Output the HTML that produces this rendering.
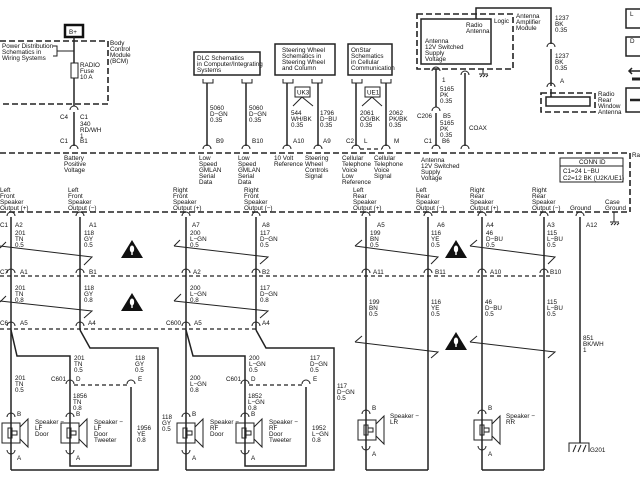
<!DOCTYPE html>
<html><head><meta charset="utf-8"><style>
html,body{margin:0;padding:0;background:#fff;}
svg{display:block;}
text{font-family:"Liberation Sans",sans-serif;font-size:6.3px;fill:#111;}
.w{stroke:#222;stroke-width:1.5;fill:none;}
.t{stroke:#222;stroke-width:1;fill:none;}
.d{stroke:#222;stroke-width:1.2;fill:none;stroke-dasharray:4,3;}
.dd{stroke:#222;stroke-width:1.6;fill:none;stroke-dasharray:6,3;}
</style></head><body>
<svg width="640" height="480" viewBox="0 0 640 480" xmlns="http://www.w3.org/2000/svg">
<defs>
<g id="c"><path d="M-4,3 A4,4 0 0 1 4,3" class="t" stroke-width="1.3"/></g>
<g id="tri"><polygon points="10,0 21,18 -1,18" fill="#111"/><ellipse cx="10" cy="9" rx="2.2" ry="3.5" fill="#fff"/><rect x="9.3" y="12" width="1.4" height="3" fill="#fff"/></g>
<g id="spk"><rect x="0" y="0" width="18" height="20" class="t"/><rect x="6" y="5" width="4" height="10" class="t"/><rect x="10" y="8" width="5" height="4" class="t"/><path d="M18,4 L26,-4 L26,24 L18,16" class="t"/></g>
</defs>

<rect x="65" y="25" width="18" height="12" fill="none" stroke="#111" stroke-width="2.5"/>
<text x="69" y="34">B+</text>
<path d="M0,41 H108 V104 H0" class="dd"/>
<text x="110" y="45">Body</text><text x="110" y="51">Control</text><text x="110" y="57">Module</text><text x="110" y="63">(BCM)</text>
<text x="2" y="48">Power Distribution</text><text x="2" y="54">Schematics in</text><text x="2" y="60">Wiring Systems</text>
<path d="M53,46 H57 V56 H53 M57,51 H74" class="t"/>
<line x1="74" y1="37" x2="74" y2="106" class="w"/>
<rect x="71" y="63" width="7" height="15" fill="#fff" stroke="#222"/>
<text x="80" y="67">RADIO</text><text x="80" y="73">Fuse</text><text x="80" y="79">10 A</text>
<use href="#c" x="74" y="107"/>
<text x="60" y="119">C4</text><text x="80" y="119">C1</text>
<text x="80" y="126">340</text><text x="80" y="132">RD/WH</text><text x="80" y="138">1</text>
<line x1="74" y1="112" x2="74" y2="146" class="w"/>
<text x="60" y="143">C1</text><text x="80" y="143">B1</text>
<use href="#c" x="74" y="146"/>

<rect x="194" y="52" width="66" height="23" class="w"/>
<text x="197" y="60">DLC Schematics</text><text x="197" y="66">in Computer/Integrating</text><text x="197" y="72">Systems</text>
<path d="M203,79 V83 H213 V79 M242,79 V83 H252 V79" class="t"/>
<line x1="207" y1="83" x2="207" y2="146" class="w"/><line x1="246" y1="83" x2="246" y2="146" class="w"/>
<text x="210" y="110">5060</text><text x="210" y="116">D−GN</text><text x="210" y="122">0.35</text>
<text x="249" y="110">5060</text><text x="249" y="116">D−GN</text><text x="249" y="122">0.35</text>
<text x="216" y="143">B9</text><text x="252" y="143">B10</text>
<use href="#c" x="207" y="146"/><use href="#c" x="246" y="146"/>

<rect x="275" y="44" width="60" height="31" class="w"/>
<text x="282" y="52">Steering Wheel</text><text x="282" y="58">Schematics in</text><text x="282" y="64">Steering Wheel</text><text x="282" y="70">and Column</text>
<path d="M283,79 V83 H293 V79 M312,79 V83 H322 V79" class="t"/>
<line x1="287" y1="83" x2="287" y2="146" class="w"/><line x1="318" y1="83" x2="318" y2="146" class="w"/>
<rect x="295" y="87" width="15" height="10" class="t"/><text x="297" y="94.5">UK3</text>
<path d="M302,97 L293,106 M302,97 L313,106" class="t"/>
<text x="291" y="115">544</text><text x="291" y="121">WH/BK</text><text x="291" y="127">0.35</text>
<text x="320" y="115">1796</text><text x="320" y="121">D−BU</text><text x="320" y="127">0.35</text>
<text x="293" y="143">A10</text><text x="323" y="143">A9</text>
<use href="#c" x="287" y="146"/><use href="#c" x="318" y="146"/>

<rect x="348" y="44" width="44" height="31" class="w"/>
<text x="351" y="52">OnStar</text><text x="351" y="58">Schematics</text><text x="351" y="64">in Cellular</text><text x="351" y="70">Communication</text>
<path d="M352,79 V83 H362 V79 M381,79 V83 H391 V79" class="t"/>
<line x1="356" y1="83" x2="356" y2="146" class="w"/><line x1="386" y1="83" x2="386" y2="146" class="w"/>
<rect x="365" y="87" width="15" height="10" class="t"/><text x="367" y="94.5">UE1</text>
<path d="M372,97 L362,106 M372,97 L382,106" class="t"/>
<text x="360" y="115">2061</text><text x="360" y="121">OG/BK</text><text x="360" y="127">0.35</text>
<text x="389" y="115">2062</text><text x="389" y="121">PK/BK</text><text x="389" y="127">0.35</text>
<text x="346" y="143">C2</text><text x="364" y="143">L</text><text x="394" y="143">M</text>
<use href="#c" x="356" y="146"/><use href="#c" x="386" y="146"/>
<line x1="360" y1="149" x2="382" y2="149" class="d"/>

<path d="M417,14 H513 V69 H417 Z" class="dd"/>
<rect x="421" y="19" width="70" height="45" fill="#fff" class="w"/>
<text x="425" y="43">Antenna</text><text x="425" y="49">12V Switched</text><text x="425" y="55">Supply</text><text x="425" y="61">Voltage</text>
<text x="466" y="27">Radio</text><text x="466" y="33">Antenna</text>
<text x="494" y="23">Logic</text>
<text x="516" y="18">Antenna</text><text x="516" y="24">Amplifier</text><text x="516" y="30">Module</text>
<path d="M476,19 V8 H551 V44" class="w"/>
<text x="555" y="20">1237</text><text x="555" y="26">BK</text><text x="555" y="32">0.35</text>
<use href="#c" x="551" y="44"/>
<line x1="551" y1="49" x2="551" y2="86" class="w"/>
<text x="555" y="58">1237</text><text x="555" y="64">BK</text><text x="555" y="70">0.35</text>
<text x="560" y="83">A</text>
<use href="#c" x="551" y="84"/><line x1="551" y1="89" x2="551" y2="97" class="w"/>
<path d="M541,93 H595 V112 H541 Z" class="dd"/>
<rect x="546" y="97" width="44" height="9" fill="#fff" class="w"/>
<text x="598" y="96">Radio</text><text x="598" y="102">Rear</text><text x="598" y="108">Window</text><text x="598" y="114">Antenna</text>
<path d="M483,69 V74 M479,74 H488 M480,77 L482,75 M483,77 L485,75 M486,77 L488,75" class="t"/>
<line x1="436" y1="69" x2="436" y2="107" class="w"/>
<use href="#c" x="436" y="68"/>
<text x="442" y="82">1</text>
<text x="440" y="91">5165</text><text x="440" y="97">PK</text><text x="440" y="103">0.35</text>
<use href="#c" x="436" y="108"/>
<text x="417" y="118">C206</text><text x="443" y="118">B5</text>
<line x1="436" y1="113" x2="436" y2="146" class="w"/>
<text x="440" y="125">5165</text><text x="440" y="131">PK</text><text x="440" y="137">0.35</text>
<text x="424" y="143">C1</text><text x="442" y="143">B6</text>
<use href="#c" x="436" y="146"/>
<line x1="465" y1="73" x2="465" y2="146" class="w"/>
<use href="#c" x="465" y="72"/><use href="#c" x="465" y="146"/>
<text x="469" y="130">COAX</text>

<rect x="626" y="9" width="20" height="19" class="w"/><text x="630" y="16">L</text>
<rect x="626" y="37" width="20" height="19" class="w"/><text x="630" y="43">D</text>
<path d="M630,71 H640 M632,68 L629,71 L632,74" class="w"/>
<path d="M632,79 H640" stroke="#222" stroke-width="3"/>
<rect x="626" y="88" width="20" height="24" class="w"/><line x1="630" y1="100" x2="640" y2="100" stroke="#222" stroke-width="2.5"/>

<line x1="0" y1="153" x2="630" y2="153" class="dd"/>
<line x1="630" y1="153" x2="630" y2="212" class="dd"/>
<line x1="0" y1="212" x2="630" y2="212" class="dd"/>
<text x="632" y="157">Ra</text>
<text x="64" y="160">Battery</text><text x="64" y="166">Positive</text><text x="64" y="172">Voltage</text>
<text x="199" y="160">Low</text><text x="199" y="166">Speed</text><text x="199" y="172">GMLAN</text><text x="199" y="178">Serial</text><text x="199" y="184">Data</text>
<text x="238" y="160">Low</text><text x="238" y="166">Speed</text><text x="238" y="172">GMLAN</text><text x="238" y="178">Serial</text><text x="238" y="184">Data</text>
<text x="274" y="160">10 Volt</text><text x="274" y="166">Reference</text>
<text x="305" y="160">Steering</text><text x="305" y="166">Wheel</text><text x="305" y="172">Controls</text><text x="305" y="178">Signal</text>
<text x="342" y="160">Cellular</text><text x="342" y="166">Telephone</text><text x="342" y="172">Voice</text><text x="342" y="178">Low</text><text x="342" y="184">Reference</text>
<text x="374" y="160">Cellular</text><text x="374" y="166">Telephone</text><text x="374" y="172">Voice</text><text x="374" y="178">Signal</text>
<text x="421" y="162">Antenna</text><text x="421" y="168">12V Switched</text><text x="421" y="174">Supply</text><text x="421" y="180">Voltage</text>
<rect x="560" y="158" width="63" height="24" class="t"/><line x1="560" y1="166" x2="623" y2="166" class="t"/>
<text x="579" y="164">CONN ID</text><text x="563" y="173">C1=24 L−BU</text><text x="563" y="180">C2=12 BK (U2K/UE1)</text>

<text x="0" y="192">Left</text><text x="0" y="198">Front</text><text x="0" y="204">Speaker</text><text x="0" y="210">Output (+)</text>
<text x="68" y="192">Left</text><text x="68" y="198">Front</text><text x="68" y="204">Speaker</text><text x="68" y="210">Output (−)</text>
<text x="173" y="192">Right</text><text x="173" y="198">Front</text><text x="173" y="204">Speaker</text><text x="173" y="210">Output (+)</text>
<text x="244" y="192">Right</text><text x="244" y="198">Front</text><text x="244" y="204">Speaker</text><text x="244" y="210">Output (−)</text>
<text x="353" y="192">Left</text><text x="353" y="198">Rear</text><text x="353" y="204">Speaker</text><text x="353" y="210">Output (+)</text>
<text x="416" y="192">Left</text><text x="416" y="198">Rear</text><text x="416" y="204">Speaker</text><text x="416" y="210">Output (−)</text>
<text x="470" y="192">Right</text><text x="470" y="198">Rear</text><text x="470" y="204">Speaker</text><text x="470" y="210">Output (+)</text>
<text x="532" y="192">Right</text><text x="532" y="198">Rear</text><text x="532" y="204">Speaker</text><text x="532" y="210">Output (−)</text>
<text x="570" y="210">Ground</text>
<text x="605" y="204">Case</text><text x="605" y="210">Ground</text>
<path d="M614,212 V222 M610,222 H619 M611,225 L613,223 M614,225 L616,223 M617,225 L619,223" class="t"/>

<g>
<use href="#c" x="11" y="213"/><use href="#c" x="80" y="213"/><use href="#c" x="186" y="213"/><use href="#c" x="256" y="213"/>
<use href="#c" x="366" y="213"/><use href="#c" x="428" y="213"/><use href="#c" x="482" y="213"/><use href="#c" x="544" y="213"/><use href="#c" x="580" y="213"/>
</g>
<text x="0" y="227">C1</text><text x="15" y="227">A2</text><text x="89" y="227">A1</text><text x="192" y="227">A7</text><text x="262" y="227">A8</text>
<text x="377" y="227">A5</text><text x="437" y="227">A6</text><text x="486" y="227">A4</text><text x="547" y="227">A3</text><text x="586" y="227">A12</text>
<g class="w">
<line x1="11" y1="217" x2="11" y2="470"/><line x1="80" y1="217" x2="80" y2="330"/>
<line x1="186" y1="217" x2="186" y2="470"/><line x1="256" y1="217" x2="256" y2="330"/>
<line x1="366" y1="217" x2="366" y2="470"/><line x1="428" y1="217" x2="428" y2="470"/>
<line x1="482" y1="217" x2="482" y2="470"/><line x1="544" y1="217" x2="544" y2="470"/>
<line x1="580" y1="217" x2="580" y2="443"/>
</g>
<text x="15" y="235">201</text><text x="15" y="241">TN</text><text x="15" y="247">0.5</text>
<text x="84" y="235">118</text><text x="84" y="241">GY</text><text x="84" y="247">0.5</text>
<text x="190" y="235">200</text><text x="190" y="241">L−GN</text><text x="190" y="247">0.5</text>
<text x="260" y="235">117</text><text x="260" y="241">D−GN</text><text x="260" y="247">0.5</text>
<text x="370" y="235">199</text><text x="370" y="241">BN</text><text x="370" y="247">0.5</text>
<text x="431" y="235">116</text><text x="431" y="241">YE</text><text x="431" y="247">0.5</text>
<text x="486" y="235">46</text><text x="486" y="241">D−BU</text><text x="486" y="247">0.5</text>
<text x="547" y="235">115</text><text x="547" y="241">L−BU</text><text x="547" y="247">0.5</text>

<g class="t" stroke-width="1.2">
<path d="M0,248 L6,242 M0,246 L92,257 L84,265"/>
<path d="M174,246 L180,240 M174,246 L268,257 L260,264"/>
<path d="M355,246 L362,240 M355,246 L438,257 L431,264"/>
<path d="M470,246 L477,240 M470,246 L555,257 L548,264"/>
<path d="M0,302 L6,296 M0,301 L92,311 L84,318"/>
<path d="M174,301 L181,294 M174,301 L268,311 L260,318"/>
<path d="M355,342 L362,336 M355,342 L438,352 L431,358"/>
<path d="M470,342 L477,336 M470,342 L555,352 L548,358"/>
</g>
<use href="#tri" x="122" y="240"/><use href="#tri" x="122" y="293"/>
<use href="#tri" x="446" y="240"/><use href="#tri" x="446" y="332"/>

<g>
<use href="#c" x="11" y="270"/><use href="#c" x="80" y="270"/><use href="#c" x="186" y="270"/><use href="#c" x="256" y="270"/>
<use href="#c" x="366" y="270"/><use href="#c" x="428" y="270"/><use href="#c" x="482" y="270"/><use href="#c" x="544" y="270"/>
</g>
<line x1="0" y1="276" x2="550" y2="276" class="d"/>
<text x="0" y="274">C7</text><text x="20" y="274">A1</text><text x="89" y="274">B1</text><text x="193" y="274">A2</text><text x="262" y="274">B2</text>
<text x="373" y="274">A11</text><text x="435" y="274">B11</text><text x="490" y="274">A10</text><text x="550" y="274">B10</text>
<text x="15" y="290">201</text><text x="15" y="296">TN</text><text x="15" y="302">0.8</text>
<text x="84" y="290">118</text><text x="84" y="296">GY</text><text x="84" y="302">0.8</text>
<text x="190" y="290">200</text><text x="190" y="296">L−GN</text><text x="190" y="302">0.8</text>
<text x="260" y="290">117</text><text x="260" y="296">D−GN</text><text x="260" y="302">0.8</text>
<text x="369" y="304">199</text><text x="369" y="310">BN</text><text x="369" y="316">0.5</text>
<text x="431" y="304">116</text><text x="431" y="310">YE</text><text x="431" y="316">0.5</text>
<text x="485" y="304">46</text><text x="485" y="310">D−BU</text><text x="485" y="316">0.5</text>
<text x="547" y="304">115</text><text x="547" y="310">L−BU</text><text x="547" y="316">0.5</text>
<text x="583" y="340">851</text><text x="583" y="346">BK/WH</text><text x="583" y="352">1</text>

<use href="#c" x="11" y="323"/><use href="#c" x="80" y="323"/><use href="#c" x="186" y="323"/><use href="#c" x="256" y="323"/>
<line x1="0" y1="329" x2="256" y2="329" class="d"/>
<text x="0" y="325">C6</text><text x="20" y="325">A5</text><text x="88" y="325">A4</text>
<text x="166" y="325">C600</text><text x="194" y="325">A5</text><text x="262" y="325">A4</text>

<g class="w">
<path d="M11,330 L17,356 H70 V466 H131 V387"/>
<path d="M80,330 L90,348 H158 V470 H11"/>
<path d="M186,330 L193,356 H245 V466 H306 V387"/>
<path d="M256,330 L266,348 H334 V470 H186"/>
<path d="M366,470 H428 M482,470 H544"/>
</g>
<use href="#c" x="70" y="381"/><use href="#c" x="131" y="381"/><use href="#c" x="245" y="381"/><use href="#c" x="306" y="381"/>
<line x1="74" y1="385" x2="128" y2="385" class="d"/><line x1="249" y1="385" x2="303" y2="385" class="d"/>
<text x="74" y="360">201</text><text x="74" y="366">TN</text><text x="74" y="372">0.5</text>
<text x="135" y="360">118</text><text x="135" y="366">GY</text><text x="135" y="372">0.5</text>
<text x="15" y="380">201</text><text x="15" y="386">TN</text><text x="15" y="392">0.5</text>
<text x="51" y="381">C601</text><text x="76" y="381">D</text><text x="138" y="381">E</text>
<text x="73" y="398">1856</text><text x="73" y="404">TN</text><text x="73" y="410">0.8</text>
<text x="137" y="430">1956</text><text x="137" y="436">YE</text><text x="137" y="442">0.8</text>
<text x="162" y="419">118</text><text x="162" y="425">GY</text><text x="162" y="431">0.5</text>
<text x="249" y="360">200</text><text x="249" y="366">L−GN</text><text x="249" y="372">0.5</text>
<text x="310" y="360">117</text><text x="310" y="366">D−GN</text><text x="310" y="372">0.5</text>
<text x="190" y="380">200</text><text x="190" y="386">L−GN</text><text x="190" y="392">0.8</text>
<text x="226" y="381">C601</text><text x="251" y="381">D</text><text x="313" y="381">E</text>
<text x="248" y="398">1852</text><text x="248" y="404">L−GN</text><text x="248" y="410">0.8</text>
<text x="312" y="430">1952</text><text x="312" y="436">L−GN</text><text x="312" y="442">0.8</text>
<text x="337" y="388">117</text><text x="337" y="394">D−GN</text><text x="337" y="400">0.5</text>

<g fill="#fff">
<use href="#spk" x="2" y="423"/><use href="#spk" x="61" y="423"/><use href="#spk" x="177" y="423"/><use href="#spk" x="236" y="423"/>
<use href="#spk" x="358" y="420"/><use href="#spk" x="474" y="420"/>
</g>
<g>
<use href="#c" x="11" y="414"/><use href="#c" x="70" y="414"/><use href="#c" x="186" y="414"/><use href="#c" x="245" y="414"/>
<use href="#c" x="366" y="411"/><use href="#c" x="482" y="411"/>
</g>
<g class="t"><path d="M7,450 A4,4 0 0 0 15,450 M66,450 A4,4 0 0 0 74,450 M182,450 A4,4 0 0 0 190,450 M241,450 A4,4 0 0 0 249,450 M362,446 A4,4 0 0 0 370,446 M478,446 A4,4 0 0 0 486,446"/></g>
<text x="17" y="416">B</text><text x="76" y="416">B</text><text x="192" y="416">B</text><text x="251" y="416">B</text>
<text x="372" y="410">B</text><text x="488" y="410">B</text>
<text x="17" y="460">A</text><text x="76" y="460">A</text><text x="192" y="460">A</text><text x="251" y="460">A</text>
<text x="372" y="456">A</text><text x="488" y="456">A</text>
<text x="35" y="424">Speaker −</text><text x="35" y="430">LF</text><text x="35" y="436">Door</text>
<text x="94" y="424">Speaker −</text><text x="94" y="430">LF</text><text x="94" y="436">Door</text><text x="94" y="442">Tweeter</text>
<text x="210" y="424">Speaker −</text><text x="210" y="430">RF</text><text x="210" y="436">Door</text>
<text x="269" y="424">Speaker −</text><text x="269" y="430">RF</text><text x="269" y="436">Door</text><text x="269" y="442">Tweeter</text>
<text x="390" y="418">Speaker −</text><text x="390" y="424">LR</text>
<text x="506" y="418">Speaker −</text><text x="506" y="424">RR</text>

<path d="M569,452 V443 H589 V452 M573,452 L576,445 M578,452 L581,445 M583,452 L586,445" class="t"/>
<text x="590" y="452">G201</text>
</svg>
</body></html>
